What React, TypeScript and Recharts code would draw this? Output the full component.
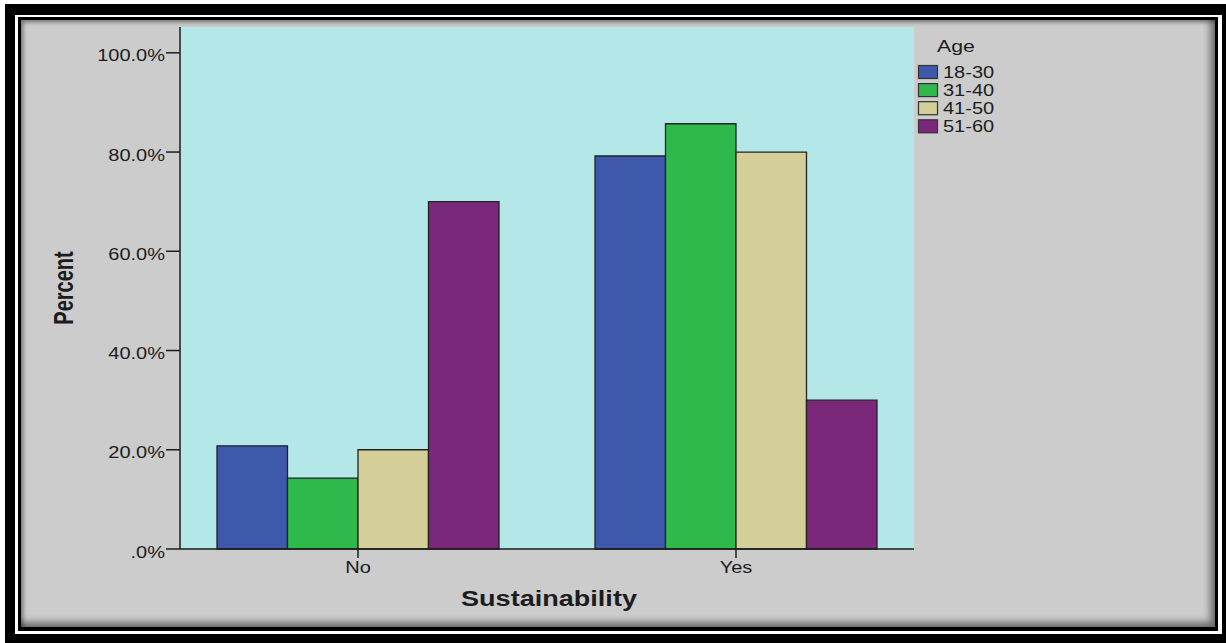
import React from 'react'
import { BarChart, Bar, XAxis, YAxis, CartesianGrid, Legend } from 'recharts'

const categories = ['No', 'Yes']
const ageGroups = ['18-30', '31-40', '41-50', '51-60']
const age18to30 = [20.8, 79.2]
const age31to40 = [14.3, 85.7]
const age41to50 = [20.0, 80.0]
const age51to60 = [70.0, 30.0]
const yTicks = [0, 20, 40, 60, 80, 100]
const colors = ['#3e58ac', '#2fb84c', '#d4cf98', '#7b287b']

const seriesValues = [age18to30, age31to40, age41to50, age51to60]
const data = categories.map((category, i) => {
  const row: Record<string, string | number> = { category }
  ageGroups.forEach((g, j) => {
    row[g] = seriesValues[j][i]
  })
  return row
})

const FONT = '"Liberation Sans", Arial, sans-serif'
const INK = '#1c1c1c'
// the source picture is stretched sideways, so text gets a horizontal scale
const SX = 1.25

function formatPercent(v: number) {
  return v === 0 ? '.0%' : `${v.toFixed(1)}%`
}

function YTick({ x, y, payload }: { x?: number; y?: number; payload?: { value: number } }) {
  return (
    <text
      transform={`translate(${x},${(y ?? 0) + 8.5}) scale(${SX},1)`}
      textAnchor="end"
      fontSize={16}
      fontFamily={FONT}
      fill={INK}
    >
      {formatPercent(payload?.value ?? 0)}
    </text>
  )
}

function XTick({ x, y, payload }: { x?: number; y?: number; payload?: { value: string } }) {
  return (
    <text
      transform={`translate(${x},${(y ?? 0) + 15}) scale(${SX},1)`}
      textAnchor="middle"
      fontSize={16}
      fontFamily={FONT}
      fill={INK}
    >
      {payload?.value}
    </text>
  )
}

function XTitle({ viewBox }: { viewBox?: { x: number; y: number; width: number; height: number } }) {
  if (!viewBox) return null
  const cx = viewBox.x + viewBox.width / 2 + 2
  return (
    <text
      transform={`translate(${cx},${viewBox.y + 57}) scale(1.23,1)`}
      textAnchor="middle"
      fontSize={22}
      fontWeight="bold"
      fontFamily={FONT}
      fill={INK}
    >
      Sustainability
    </text>
  )
}

function YTitle({ viewBox }: { viewBox?: { x: number; y: number; width: number; height: number } }) {
  if (!viewBox) return null
  const cy = viewBox.y + viewBox.height / 2
  return (
    <text
      transform={`translate(73,${cy}) scale(1.4,1) rotate(-90)`}
      textAnchor="middle"
      fontSize={20}
      fontWeight="bold"
      fontFamily={FONT}
      fill={INK}
    >
      Percent
    </text>
  )
}

function AgeLegend({ payload }: { payload?: Array<{ value: string; color: string }> }) {
  return (
    <svg width={200} height={130} style={{ display: 'block' }}>
      <text
        transform={`translate(37,32) scale(${SX},1)`}
        fontSize={17}
        fontFamily={FONT}
        fill={INK}
      >
        Age
      </text>
      {(payload ?? []).map((entry, i) => (
        <g key={entry.value}>
          <rect
            x={18.5}
            y={45.5 + i * 18.1}
            width={19}
            height={13}
            fill={entry.color}
            stroke="#333"
            strokeWidth={1.2}
          />
          <text
            transform={`translate(43,${57.8 + i * 18.1}) scale(${SX},1)`}
            fontSize={16}
            fontFamily={FONT}
            fill={INK}
          >
            {entry.value}
          </text>
        </g>
      ))}
    </svg>
  )
}

export default function App() {
  return (
    <div style={{ position: 'fixed', left: 0, top: 0, width: 1226, height: 643, background: '#fff', overflow: 'hidden' }}>
      {/* double frame around the grey panel */}
      <div style={{ position: 'absolute', left: 5, top: 4, right: -10, bottom: -10, background: '#000' }} />
      <div style={{ position: 'absolute', left: 15, top: 15, right: 4, bottom: 9, background: '#fff' }} />
      <div style={{ position: 'absolute', left: 18, top: 17, right: 8, bottom: 12, background: '#000' }} />
      <div
        style={{
          position: 'absolute',
          left: 21,
          top: 20,
          right: 11,
          bottom: 16,
          background: '#cccccc',
          boxShadow: 'inset 2px 2px 4px rgba(0,0,0,0.45), inset -5px -5px 7px rgba(0,0,0,0.45)',
        }}
      />
      <div style={{ position: 'absolute', left: 0, top: 0 }}>
        <BarChart
          width={1226}
          height={643}
          data={data}
          barSize={70.5}
          barGap={0}
          margin={{ top: 27, right: 312, bottom: 34, left: 0 }}
        >
          <CartesianGrid fill="#b4e7e8" horizontal={false} vertical={false} />
          <XAxis
            dataKey="category"
            padding={{ left: -11, right: -11 }}
            height={60}
            tickSize={9}
            tickMargin={0}
            tick={<XTick />}
            axisLine={{ stroke: INK, strokeWidth: 1.5 }}
            tickLine={{ stroke: INK, strokeWidth: 1.5 }}
            label={<XTitle />}
          />
          <XAxis xAxisId="top" orientation="top" dataKey="category" height={0} tick={false} tickLine={false} axisLine={{ stroke: '#333', strokeWidth: 1.2 }} />
          <YAxis
            width={180}
            domain={[0, 105.2]}
            ticks={yTicks}
            tickSize={14}
            tickMargin={1}
            tick={<YTick />}
            axisLine={{ stroke: INK, strokeWidth: 1.5 }}
            tickLine={{ stroke: INK, strokeWidth: 1.5 }}
            label={<YTitle />}
          />
          <YAxis yAxisId="right" orientation="right" width={0} tick={false} tickLine={false} axisLine={{ stroke: '#444', strokeWidth: 1.5 }} />
          <Legend
            layout="vertical"
            align="center"
            verticalAlign="middle"
            content={<AgeLegend />}
            wrapperStyle={{ left: 900, top: 20, width: 200, height: 130 }}
          />
          {ageGroups.map((g, i) => (
            <Bar
              key={g}
              dataKey={g}
              fill={colors[i]}
              stroke="#222"
              strokeWidth={1.3}
              isAnimationActive={false}
            />
          ))}
        </BarChart>
      </div>
    </div>
  )
}
